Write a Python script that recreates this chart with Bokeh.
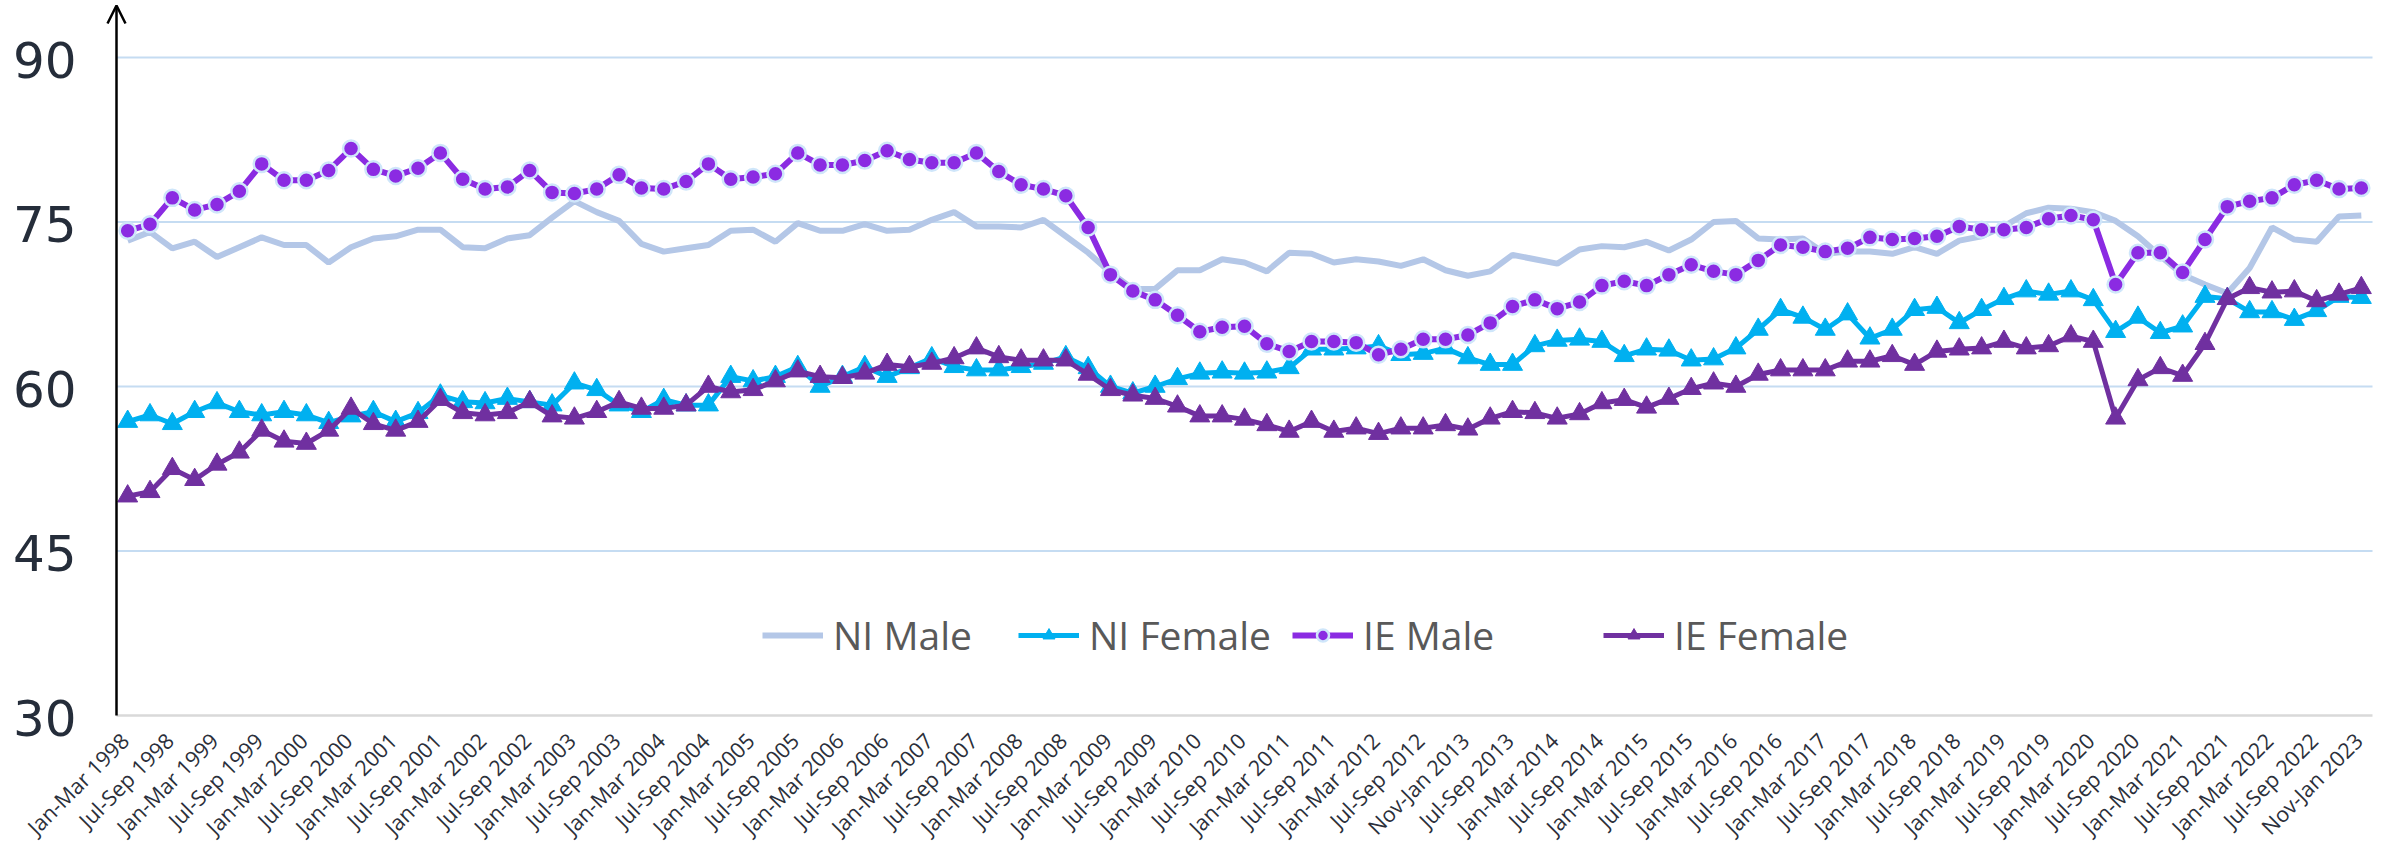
import math
from bokeh.plotting import figure
from bokeh.models import (Range1d, Arrow, OpenHead, Legend, LegendItem, ColumnDataSource)
from bokeh.core.properties import value
from bokeh.embed import file_html
from bokeh.resources import INLINE

# ---------------- data ----------------
tick_labels = [
    "Jan-Mar 1998", "Jul-Sep 1998", "Jan-Mar 1999", "Jul-Sep 1999", "Jan-Mar 2000", "Jul-Sep 2000",
    "Jan-Mar 2001", "Jul-Sep 2001", "Jan-Mar 2002", "Jul-Sep 2002", "Jan-Mar 2003", "Jul-Sep 2003",
    "Jan-Mar 2004", "Jul-Sep 2004", "Jan-Mar 2005", "Jul-Sep 2005", "Jan-Mar 2006", "Jul-Sep 2006",
    "Jan-Mar 2007", "Jul-Sep 2007", "Jan-Mar 2008", "Jul-Sep 2008", "Jan-Mar 2009", "Jul-Sep 2009",
    "Jan-Mar 2010", "Jul-Sep 2010", "Jan-Mar 2011", "Jul-Sep 2011", "Jan-Mar 2012", "Jul-Sep 2012",
    "Nov-Jan 2013", "Jul-Sep 2013", "Jan-Mar 2014", "Jul-Sep 2014", "Jan-Mar 2015", "Jul-Sep 2015",
    "Jan-Mar 2016", "Jul-Sep 2016", "Jan-Mar 2017", "Jul-Sep 2017", "Jan-Mar 2018", "Jul-Sep 2018",
    "Jan-Mar 2019", "Jul-Sep 2019", "Jan-Mar 2020", "Jul-Sep 2020", "Jan-Mar 2021", "Jul-Sep 2021",
    "Jan-Mar 2022", "Jul-Sep 2022", "Nov-Jan 2023",
]

ni_male = [
    73.3, 74.1, 72.6, 73.2, 71.8, 72.7, 73.6, 72.9, 72.9, 71.3, 72.7, 73.5, 73.7, 74.3, 74.3, 72.7, 72.6, 73.5, 73.8,
    75.4, 76.9, 75.9, 75.1, 73.0, 72.3, 72.6, 72.9, 74.2, 74.3, 73.2, 74.9, 74.2, 74.2, 74.8, 74.2, 74.3,
    75.2, 75.9, 74.6, 74.6, 74.5, 75.2, 73.7, 72.2, 70.4, 68.9, 68.9, 70.6, 70.6, 71.6, 71.3, 70.5, 72.2, 72.1,
    71.3, 71.6, 71.4, 71.0, 71.6, 70.6, 70.1, 70.5, 72.0, 71.6, 71.2, 72.5, 72.8, 72.7, 73.2, 72.4, 73.4,
    75.0, 75.1, 73.5, 73.4, 73.5, 72.1, 72.3, 72.3, 72.1, 72.7, 72.1, 73.3, 73.7, 74.6, 75.8, 76.3, 76.2, 75.9,
    75.1, 73.7, 71.9, 70.2, 69.3, 68.5, 70.8, 74.5, 73.4, 73.2, 75.5, 75.6,
]
ni_female = [
    56.8, 57.4, 56.6, 57.7, 58.5, 57.7, 57.4, 57.7, 57.4, 56.7, 57.3, 57.7, 56.8, 57.6, 59.2, 58.6, 58.5, 58.9, 58.6,
    58.3, 60.3, 59.7, 58.3, 57.7, 58.8, 58.3, 58.3, 60.9, 60.5, 60.9, 61.8, 60.0, 60.9, 61.8, 60.9, 61.7,
    62.6, 61.8, 61.5, 61.5, 61.8, 62.1, 62.7, 61.7, 60.0, 59.4, 60.0, 60.7, 61.2, 61.3, 61.2, 61.3, 61.7, 63.4,
    63.4, 63.5, 63.7, 62.9, 63.0, 63.5, 62.6, 62.0, 62.0, 63.7, 64.2, 64.3, 64.1, 62.8, 63.4, 63.3, 62.4,
    62.5, 63.5, 65.2, 67.0, 66.3, 65.2, 66.6, 64.4, 65.2, 67.0, 67.2, 65.8, 67.0, 68.0, 68.7, 68.4, 68.7, 67.9,
    65.0, 66.3, 64.9, 65.5, 68.2, 68.0, 66.8, 66.8, 66.1, 66.9, 68.2, 68.1,
]
ie_male = [
    74.2, 74.8, 77.2, 76.1, 76.6, 77.8, 80.3, 78.8, 78.8, 79.7, 81.7, 79.8, 79.2, 79.9, 81.3, 78.9, 78.0, 78.2, 79.7,
    77.7, 77.6, 78.0, 79.3, 78.1, 78.0, 78.7, 80.3, 78.9, 79.1, 79.4, 81.3, 80.2, 80.2, 80.6, 81.5, 80.7,
    80.4, 80.4, 81.3, 79.6, 78.4, 78.0, 77.4, 74.5, 70.2, 68.7, 67.9, 66.5, 65.0, 65.4, 65.5, 63.9, 63.2, 64.1,
    64.1, 64.0, 62.9, 63.4, 64.3, 64.3, 64.7, 65.8, 67.3, 67.9, 67.1, 67.7, 69.2, 69.6, 69.2, 70.2, 71.1,
    70.5, 70.2, 71.5, 72.9, 72.7, 72.3, 72.6, 73.6, 73.4, 73.5, 73.7, 74.6, 74.3, 74.3, 74.5, 75.3, 75.6, 75.2,
    69.3, 72.2, 72.2, 70.4, 73.4, 76.4, 76.9, 77.2, 78.4, 78.8, 78.0, 78.1,
]
ie_female = [
    50.0, 50.4, 52.5, 51.5, 52.9, 54.0, 56.0, 55.0, 54.8, 56.0, 58.0, 56.6, 56.0, 56.8, 58.8, 57.6, 57.4, 57.6, 58.6,
    57.3, 57.1, 57.7, 58.6, 58.0, 58.0, 58.3, 60.0, 59.5, 59.7, 60.5, 61.4, 60.9, 60.8, 61.2, 62.0, 61.8,
    62.1, 62.6, 63.5, 62.7, 62.4, 62.4, 62.4, 61.1, 59.7, 59.2, 58.9, 58.2, 57.3, 57.3, 57.0, 56.5, 55.9, 56.8,
    55.9, 56.2, 55.7, 56.2, 56.2, 56.5, 56.1, 57.1, 57.7, 57.6, 57.1, 57.5, 58.5, 58.8, 58.1, 58.9, 59.8,
    60.3, 60.0, 61.1, 61.5, 61.5, 61.5, 62.3, 62.3, 62.8, 62.0, 63.2, 63.4, 63.5, 64.1, 63.5, 63.7, 64.6, 64.1,
    57.1, 60.6, 61.7, 61.0, 63.9, 68.0, 69.0, 68.6, 68.7, 67.8, 68.4, 69.0,
]
y_ticks = [30, 45, 60, 75, 90]

# ---------------- layout constants (pixels) ----------------
W, H = 2390, 845
AXIS_X_PX = 116          # page x of the y axis line
RIGHT_PX = 2372          # page x where the category axis ends
AXIS_Y_PX = 715          # page y of the value-axis minimum (30)
TOP_Y_PX = 57            # page y of 90
TIP_Y_PX = 5             # page y of the y-axis arrow tip

n = len(ni_male)
x = list(range(n))
src = ColumnDataSource(dict(x=x, ni_m=ni_male, ni_f=ni_female, ie_m=ie_male, ie_f=ie_female))

y_lo, y_hi = y_ticks[0], y_ticks[-1]
ppu_y = (AXIS_Y_PX - TOP_Y_PX) / (y_hi - y_lo)
Y_MIN = y_lo - (H - AXIS_Y_PX) / ppu_y
Y_MAX = y_lo + AXIS_Y_PX / ppu_y
Y_TIP = y_lo + (AXIS_Y_PX - TIP_Y_PX) / ppu_y

ppu_x = (RIGHT_PX - AXIS_X_PX) / n
X_LO, X_HI = -0.5, n - 0.5
X_MIN = X_LO - AXIS_X_PX / ppu_x
X_MAX = X_HI + (W - RIGHT_PX) / ppu_x

p = figure(width=W, height=H, output_backend="svg", toolbar_location=None,
           x_range=Range1d(X_MIN, X_MAX), y_range=Range1d(Y_MIN, Y_MAX),
           min_border_left=0, min_border_right=0, min_border_top=0, min_border_bottom=0)
p.outline_line_color = None
p.background_fill_color = "white"
p.xgrid.visible = False
p.ygrid.visible = False
p.xaxis.visible = False
p.yaxis.visible = False

# horizontal gridlines (45..90) and category axis line at 30
grid_y = y_ticks[1:]
p.segment(x0=[X_LO] * len(grid_y), x1=[X_HI] * len(grid_y), y0=grid_y, y1=grid_y,
          line_color="#C5DCF2", line_width=2)
p.segment(x0=[X_LO], x1=[X_HI], y0=[y_lo], y1=[y_lo], line_color="#D9D9D9", line_width=2.5)

# value-axis tick labels
ylab_src = ColumnDataSource(dict(x=[X_LO] * len(y_ticks), y=y_ticks, text=[str(t) for t in y_ticks]))
p.text(x="x", y="y", text="text", source=ylab_src, text_align="right", text_baseline="middle",
       x_offset=-40, y_offset=2, text_font=value("DejaVu Sans"), text_font_size=value("50px"),
       text_color="#252d3a")

# category tick labels (rotated)
tick_pos = list(range(0, n, 2))
lab_src = ColumnDataSource(dict(x=tick_pos, y=[y_lo] * len(tick_pos), text=tick_labels))
p.text(x="x", y="y", text="text", source=lab_src, angle=math.pi / 4,
       text_align="right", text_baseline="middle", x_offset=-3, y_offset=21,
       text_font=value("Open Sans"), text_font_size=value("21.5px"), text_color="#2b2f3a")

# series
r_nim = p.line("x", "ni_m", source=src, line_color="#B4C7E7", line_width=6)

r_nif_l = p.line("x", "ni_f", source=src, line_color="#00B0F0", line_width=5)
r_nif_s = p.scatter("x", "ni_f", source=src, marker="triangle", size=20,
                    fill_color="#00B0F0", line_color="#00B0F0")

r_iem_l = p.line("x", "ie_m", source=src, line_color="#8B2BE2", line_width=6)
r_iem_s = p.scatter("x", "ie_m", source=src, marker="circle", size=16,
                    fill_color="#8B2BE2", line_color="#CFE6FA", line_width=2.5)

r_ief_l = p.line("x", "ie_f", source=src, line_color="#7030A0", line_width=5)
r_ief_s = p.scatter("x", "ie_f", source=src, marker="triangle", size=20,
                    fill_color="#7030A0", line_color="#7030A0")

# y axis line with open arrow head
p.add_layout(Arrow(end=OpenHead(size=18, line_width=2.5, line_color="black"),
                   x_start=X_LO, y_start=y_lo, x_end=X_LO, y_end=Y_TIP,
                   line_color="black", line_width=2.5))

# legend: one Legend per item for exact placement
legend_items = [
    ("NI Male", [r_nim], 762),
    ("NI Female", [r_nif_l, r_nif_s], 1018),
    ("IE Male", [r_iem_l, r_iem_s], 1292),
    ("IE Female", [r_ief_l, r_ief_s], 1603),
]
for label, rends, lx in legend_items:
    lg = Legend(items=[LegendItem(label=label, renderers=rends)],
                orientation="horizontal", location=(lx, 184),
                background_fill_alpha=0, border_line_color=None,
                label_text_font="Open Sans", label_text_font_size="39px",
                label_text_color="#595959",
                glyph_width=61, glyph_height=30, label_standoff=10, padding=0, margin=0)
    p.add_layout(lg)

open("out.html", "w").write(file_html(p, INLINE))
